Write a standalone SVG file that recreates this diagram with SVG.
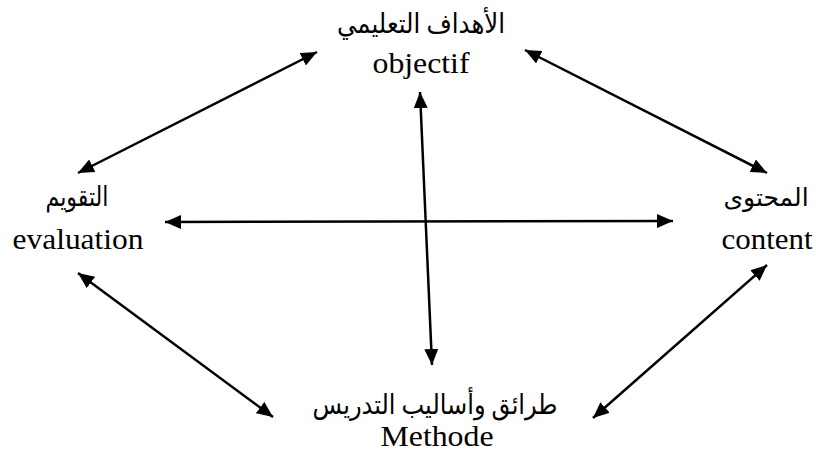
<svg xmlns="http://www.w3.org/2000/svg" width="816" height="452" viewBox="0 0 816 452">
<style>
.t{font-family:"Liberation Serif","Times New Roman",serif;font-size:30px;fill:#000;text-anchor:middle}
.a{font-family:"Liberation Serif","DejaVu Sans",serif;font-size:27px;fill:#000;text-anchor:middle}
.c{stroke:#000;stroke-width:2.5;fill:none;marker-start:url(#ah);marker-end:url(#ah)}
</style>
<defs>
<marker id="ah" markerUnits="userSpaceOnUse" markerWidth="17" markerHeight="14" refX="16" refY="7" orient="auto-start-reverse">
<path d="M0,0 L16,7 L0,14 z" fill="#000"/>
</marker>
</defs>
<rect width="816" height="452" fill="#fff"/>
<g id="connectors">
<line class="c" x1="78" y1="173" x2="317" y2="52"/>
<line class="c" x1="525" y1="50" x2="767" y2="173"/>
<line class="c" x1="420" y1="92" x2="432" y2="365"/>
<line class="c" x1="165" y1="222" x2="673" y2="221"/>
<line class="c" x1="78" y1="273" x2="273" y2="417"/>
<line class="c" x1="593" y1="418" x2="767" y2="265"/>
</g>
<g id="objectif">
<text class="a" x="421" y="33" direction="rtl" textLength="168" lengthAdjust="spacingAndGlyphs">الأهداف التعليمي</text>
<text class="t" x="421" y="73" textLength="97" lengthAdjust="spacingAndGlyphs">objectif</text>
</g>
<g id="evaluation">
<text class="a" x="77" y="206" direction="rtl" textLength="63" lengthAdjust="spacingAndGlyphs">التقويم</text>
<text class="t" x="78" y="249" textLength="131" lengthAdjust="spacingAndGlyphs">evaluation</text>
</g>
<g id="content">
<text class="a" x="766" y="206" direction="rtl" style="font-size:25px">المحتوى</text>
<text class="t" x="767" y="249" textLength="91" lengthAdjust="spacingAndGlyphs">content</text>
</g>
<g id="methode">
<text class="a" x="435" y="414" direction="rtl" textLength="245" lengthAdjust="spacingAndGlyphs">طرائق وأساليب التدريس</text>
<text class="t" x="437" y="446" textLength="113" lengthAdjust="spacingAndGlyphs">Methode</text>
</g>
</svg>
